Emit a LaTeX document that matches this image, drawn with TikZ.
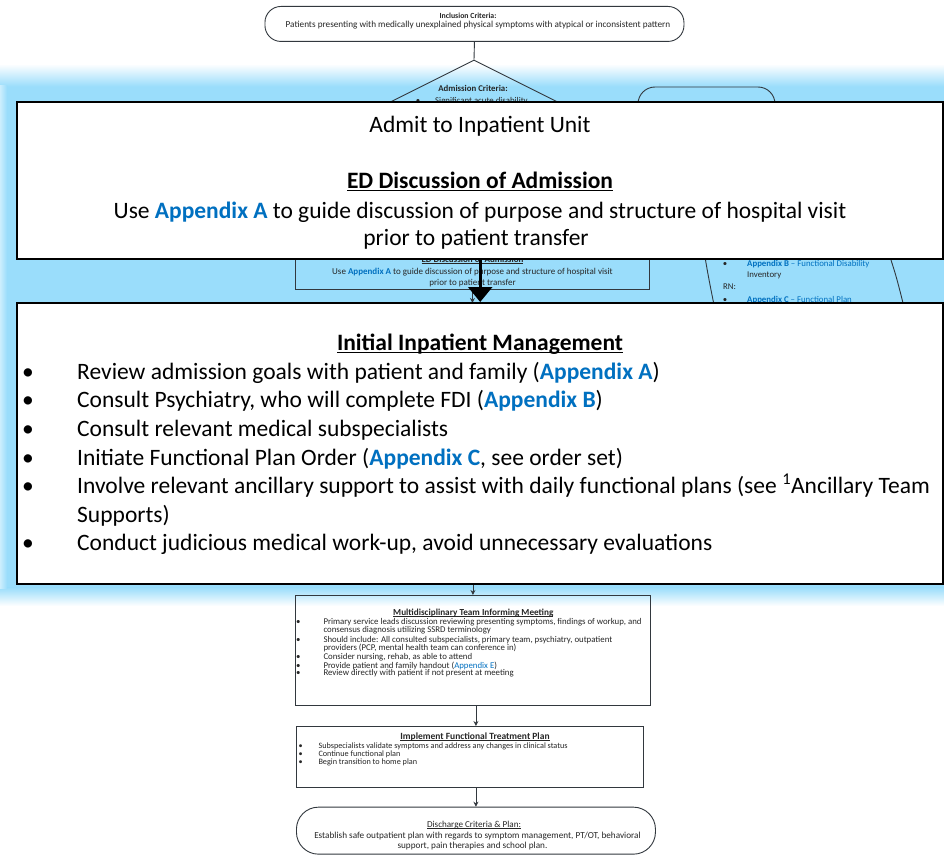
\documentclass[tikz,border=0pt]{standalone}
\usepackage{fontspec}
\setmainfont{Carlito}
\usetikzlibrary{arrows.meta,shapes.geometric}

\definecolor{glowblue}{RGB}{154,221,251}
\definecolor{appblue}{RGB}{0,112,192}
\definecolor{chartline}{RGB}{50,56,62}
\definecolor{charttext}{RGB}{38,38,38}

% bold blue appendix reference
\newcommand{\appx}[1]{\textcolor{appblue}{\textbf{#1}}}
% underline at a fixed distance below the baseline (crosses descenders)
\newcommand{\ulx}[3]{\setbox0=\hbox{#3}\leavevmode\rlap{\rule[-#1]{\wd0}{#2}}\box0}
\newcommand{\fgsize}{\fontsize{23.5}{28}\selectfont}

\begin{document}
\begin{tikzpicture}[x=1pt,y=-1pt,
  fgbox/.style={draw=black, line width=2.4pt, fill=white, inner sep=0pt, anchor=north west},
  fgtext/.style={inner sep=0pt, anchor=base, font=\fgsize},
  fgitem/.style={inner sep=0pt, anchor=base west, font=\fgsize},
  bgbox/.style={draw=chartline, line width=0.9pt, inner sep=0pt, anchor=north west},
  bgtext/.style={inner sep=0pt, anchor=base, font=\fontsize{#1}{10}\selectfont, text=charttext},
  bgtext/.default=8.8,
  bgitem/.style={inner sep=0pt, anchor=base west, font=\fontsize{#1}{10}\selectfont, text=charttext},
  bgitem/.default=8.8,
  bgarrow/.style={draw=chartline, line width=0.9pt, -{Stealth[length=5pt,width=5pt]}},
  bigarrow/.style={draw=black, line width=2.6pt, -{Triangle[length=15pt,width=24pt]}},
]
\useasboundingbox (0,0) rectangle (944,856);
\fill[white] (0,0) rectangle (944,856);

% soft blue highlight band behind the enlarged steps
\fill[glowblue] (0,86) rectangle (944,588);
\shade[top color=white, bottom color=glowblue] (0,64) rectangle (944,86.5);
\shade[top color=glowblue, bottom color=white] (0,587.5) rectangle (944,606);
\shade[left color=white!50!glowblue, right color=glowblue] (0,86) rectangle (7,588);

% ---------------- full pathway (small) ----------------
\node[bgbox, rounded corners=16pt, minimum width=419pt, minimum height=35pt] (incl) at (264.5,6) {};
\node[bgtext=7.8] (incl-t) at (468,18.5) {\bfseries Inclusion Criteria:};
\node[bgtext=9.2] (incl-l) at (478,28) {Patients presenting with medically unexplained physical symptoms with atypical or inconsistent pattern};

\node[draw=chartline, line width=0.9pt, diamond, minimum width=320pt, minimum height=160pt, inner sep=0pt] (adm) at (474,140) {};
\draw[chartline, line width=0.9pt] (incl.south) -- (adm.north);
\node[bgtext] (adm-t) at (473,91.5) {\bfseries Admission Criteria:};
\node[bgtext] (adm-d) at (418,104) {\textbullet};
\node[bgitem] (adm-l) at (435,104) {Significant acute disability};

% side note shapes
\draw[chartline, line width=0.9pt, rounded corners=17pt] (638,140) -- (638,87) -- (775,87) -- (775,140);
\draw[chartline, line width=0.9pt] (703,245) .. controls (708,275) .. (716,315);
\draw[chartline, line width=0.9pt] (886,245) .. controls (896,275) .. (906,315);
\node[bgtext] (note-d1) at (725,266.5) {\textbullet};
\node[bgitem, text=appblue] (note-l1) at (747,266.5) {\textbf{Appendix B} -- Functional Disability};
\node[bgitem] (note-l2) at (747,277.5) {Inventory};
\node[bgitem] (note-l3) at (723,289) {RN:};
\node[bgtext] (note-d2) at (725,302) {\textbullet};
\node[bgitem, text=appblue] (note-l4) at (747,302) {\textbf{Appendix C} -- Functional Plan};

% ED discussion (small)
\node[bgbox, minimum width=354pt, minimum height=60pt] (edbg) at (295,229) {};
\node[bgtext=9] (edbg-t) at (472.5,262) {\ulx{1.2pt}{0.6pt}{\bfseries ED Discussion of Admission}};
\node[bgtext=9] (edbg-l1) at (472.5,274.5) {Use \appx{Appendix A} to guide discussion of purpose and structure of hospital visit};
\node[bgtext=9] (edbg-l2) at (472.5,285) {prior to patient transfer};

% multidisciplinary meeting
\node[bgbox, minimum width=355pt, minimum height=110pt] (mtim) at (295,595) {};
\node[bgtext=9.2] (mtim-t) at (473.3,615.5) {\ulx{1.2pt}{0.6pt}{\bfseries Multidisciplinary Team Informing Meeting}};
\node[bgtext] (mtim-d1) at (298.3,624.3) {\textbullet};
\node[bgitem] (mtim-l1) at (323.3,624.3) {Primary service leads discussion reviewing presenting symptoms, findings of workup, and};
\node[bgitem] (mtim-l2) at (323.3,632.7) {consensus diagnosis utilizing SSRD terminology};
\node[bgtext] (mtim-d3) at (298.3,642) {\textbullet};
\node[bgitem] (mtim-l3) at (323.3,642) {Should include: All consulted subspecialists, primary team, psychiatry, outpatient};
\node[bgitem] (mtim-l4) at (323.3,650.3) {providers (PCP, mental health team can conference in)};
\node[bgtext] (mtim-d5) at (298.3,659.7) {\textbullet};
\node[bgitem] (mtim-l5) at (323.3,659.7) {Consider nursing, rehab, as able to attend};
\node[bgtext] (mtim-d6) at (298.3,668) {\textbullet};
\node[bgitem] (mtim-l6) at (323.3,668) {Provide patient and family handout (\textcolor{appblue}{Appendix E})};
\node[bgtext] (mtim-d7) at (298.3,675.8) {\textbullet};
\node[bgitem] (mtim-l7) at (323.3,675.8) {Review directly with patient if not present at meeting};

% functional treatment plan
\node[bgbox, minimum width=347pt, minimum height=61pt] (iftp) at (296,726) {};
\node[bgtext=9.5] (iftp-t) at (475,739) {\ulx{1.2pt}{0.6pt}{\bfseries Implement Functional Treatment Plan}};
\node[bgtext=8.2] (iftp-d1) at (300.7,748.7) {\textbullet};
\node[bgitem=8.2] (iftp-l1) at (318.3,748.7) {Subspecialists validate symptoms and address any changes in clinical status};
\node[bgtext=8.2] (iftp-d2) at (300.7,756.5) {\textbullet};
\node[bgitem=8.2] (iftp-l2) at (318.3,756.5) {Continue functional plan};
\node[bgtext=8.2] (iftp-d3) at (300.7,764.5) {\textbullet};
\node[bgitem=8.2] (iftp-l3) at (318.3,764.5) {Begin transition to home plan};

% discharge
\node[bgbox, rounded corners=22pt, minimum width=359pt, minimum height=47pt] (dis) at (296,806.7) {};
\node[bgtext=9.1] (dis-t) at (474,827) {\ulx{1.2pt}{0.6pt}{Discharge Criteria \& Plan:}};
\node[bgtext=9.2] (dis-l1) at (477.5,838.7) {Establish safe outpatient plan with regards to symptom management, PT/OT, behavioral};
\node[bgtext=9.2] (dis-l2) at (472.5,848) {support, pain therapies and school plan.};

% ---------------- enlarged steps ----------------
\node[fgbox, minimum width=926pt, minimum height=157pt] (admit) at (16,101) {};
\node[fgtext] (admit-t) at (480,132.5) {Admit to Inpatient Unit};
\node[fgtext] (ed-t) at (480,188.3) {\ulx{2.6pt}{1.3pt}{\bfseries ED Discussion of Admission}};
\node[fgtext] (ed-l1) at (480,218.3) {Use \appx{Appendix A} to guide discussion of purpose and structure of hospital visit};
\node[fgtext] (ed-l2) at (476,245) {prior to patient transfer};

\draw[bgarrow] (edbg.south) -- (edbg.south |- 0,303);

\node[fgbox, minimum width=926pt, minimum height=280.5pt] (ipm) at (16,302) {};
\node[fgtext] (ipm-t) at (480,350.7) {\ulx{2.6pt}{1.3pt}{\bfseries Initial Inpatient Management}};
\node[fgtext] (ipm-d1) at (28,379.3) {\textbullet};
\node[fgitem] (ipm-l1) at (77,379.3) {Review admission goals with patient and family (\appx{Appendix A})};
\node[fgtext] (ipm-d2) at (28,407.9) {\textbullet};
\node[fgitem] (ipm-l2) at (77,407.9) {Consult Psychiatry, who will complete FDI (\appx{Appendix B})};
\node[fgtext] (ipm-d3) at (28,436.4) {\textbullet};
\node[fgitem] (ipm-l3) at (77,436.4) {Consult relevant medical subspecialists};
\node[fgtext] (ipm-d4) at (28,465.0) {\textbullet};
\node[fgitem] (ipm-l4) at (77,465.0) {Initiate Functional Plan Order (\appx{Appendix C}, see order set)};
\node[fgtext] (ipm-d5) at (28,493.6) {\textbullet};
\node[fgitem] (ipm-l5) at (77,493.6) {Involve relevant ancillary support to assist with daily functional plans (see \textsuperscript{1}Ancillary Team};
\node[fgitem] (ipm-l5b) at (77,522.1) {Supports)};
\node[fgtext] (ipm-d6) at (28,550.7) {\textbullet};
\node[fgitem] (ipm-l6) at (77,550.7) {Conduct judicious medical work-up, avoid unnecessary evaluations};

\draw[bigarrow] (admit.south) -- (ipm.north);

% connectors of the lower pathway
\draw[bgarrow] (ipm.south -| mtim.north) -- (mtim.north);
\draw[bgarrow] (mtim.south -| dis.north) -- (iftp.north -| dis.north);
\draw[bgarrow] (iftp.south -| dis.north) -- (dis.north);
\end{tikzpicture}
\end{document}
